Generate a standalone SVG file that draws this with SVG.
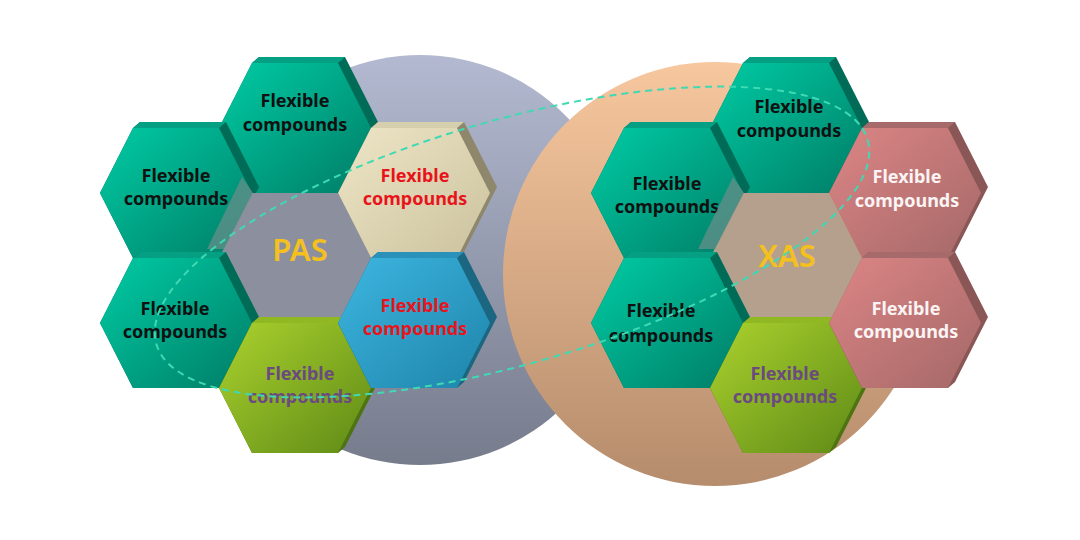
<svg xmlns="http://www.w3.org/2000/svg" xmlns:xlink="http://www.w3.org/1999/xlink" width="1080" height="540" viewBox="0 0 1080 540">
<style>
  .lbl{font-family:"Noto Sans","Liberation Sans",Arial,sans-serif;font-weight:700;font-size:18px;text-anchor:middle}
  .big{font-family:"Noto Sans","Liberation Sans",Arial,sans-serif;font-weight:600;font-size:31px;text-anchor:middle;fill:#f4c020}
  .dark{fill:#111111}
  .red{fill:#e8141c}
  .purple{fill:#6b4a80}
  .white{fill:#fbf4f4}
  .teal .side{fill:#006c57} .teal .topface{fill:#05a083} .teal .face{fill:url(#gTeal)}
  .beige .side{fill:#8e876c} .beige .topface{fill:#d6cfae} .beige .face{fill:url(#gBeige)}
  .blue .side{fill:#1b6680} .blue .topface{fill:#2a92ba} .blue .face{fill:url(#gBlue)}
  .lime .side{fill:#4e7412} .lime .topface{fill:#8fb822} .lime .face{fill:url(#gLime)}
  .pink .side{fill:#8a5656} .pink .topface{fill:#a66a6a} .pink .face{fill:url(#gPink)}
  .band{fill:#5f8f88;opacity:0.8}
</style>
<defs>
  <linearGradient id="gTeal" x1="0" y1="0" x2="1" y2="1"><stop offset="0" stop-color="#00cca4"/><stop offset="1" stop-color="#007d67"/></linearGradient>
  <linearGradient id="gBeige" x1="0" y1="0" x2="1" y2="1"><stop offset="0" stop-color="#ede6c6"/><stop offset="1" stop-color="#cbc19e"/></linearGradient>
  <linearGradient id="gBlue" x1="0" y1="0" x2="1" y2="1"><stop offset="0" stop-color="#3db6e0"/><stop offset="1" stop-color="#1e84aa"/></linearGradient>
  <linearGradient id="gLime" x1="0" y1="0" x2="1" y2="1"><stop offset="0" stop-color="#abd22e"/><stop offset="1" stop-color="#5e8a16"/></linearGradient>
  <linearGradient id="gPink" x1="0" y1="0" x2="1" y2="1"><stop offset="0" stop-color="#dd8585"/><stop offset="1" stop-color="#a46868"/></linearGradient>
  <linearGradient id="gGray" x1="0" y1="0" x2="0" y2="1"><stop offset="0" stop-color="#b3b9d0"/><stop offset="1" stop-color="#767c8c"/></linearGradient>
  <linearGradient id="gOrange" x1="0" y1="0" x2="0" y2="1"><stop offset="0" stop-color="#f7c79e"/><stop offset="1" stop-color="#b58c6c"/></linearGradient>
  <polygon id="hull" points="-43,65 -76,0 -43,-65 -36,-71 50,-71 83,-6 50,59 43,65"/>
  <polygon id="topf" points="-43,-65 43,-65 50,-71 -36,-71"/>
  <polygon id="front" points="-76,0 -43,-65 43,-65 76,0 43,65 -43,65"/>
  <polygon id="bandp" points="66,-16 77,0 48,56 31,56"/>
</defs>
<rect width="1080" height="540" fill="#ffffff"/>
<g id="circles">
  <circle id="circle-pas" cx="420" cy="260" r="205" fill="url(#gGray)"/>
  <circle id="circle-xas" cx="715" cy="274" r="212" fill="url(#gOrange)"/>
</g>

<!-- Left cluster -->
<g id="pas-top" class="teal" transform="translate(295,128)">
  <use xlink:href="#hull" class="side"/><use xlink:href="#topf" class="topface"/><use xlink:href="#front" class="face"/>
</g>
<g id="pas-top-label"><text class="lbl dark" x="295" y="107">Flexible</text><text class="lbl dark" x="295" y="131">compounds</text></g>
<g id="pas-lefttop" class="teal" transform="translate(176,193)">
  <use xlink:href="#hull" class="side"/><use xlink:href="#topf" class="topface"/><use xlink:href="#front" class="face"/>
  <text class="lbl dark" x="0" y="-11">Flexible</text><text class="lbl dark" x="0" y="12">compounds</text>
</g>
<g id="pas-righttop" class="beige" transform="translate(414,193)">
  <use xlink:href="#hull" class="side"/><use xlink:href="#topf" class="topface"/><use xlink:href="#front" class="face"/>
  <text class="lbl red" x="1" y="-11">Flexible</text><text class="lbl red" x="1" y="12">compounds</text>
</g>
<g id="pas-center" transform="translate(295,258)">
  <use xlink:href="#front" fill="#8c909e"/>
  <text class="big" x="5" y="3">PAS</text>
</g>
<use xlink:href="#bandp" class="band" transform="translate(176,193)"/>
<g id="pas-leftbottom" class="teal" transform="translate(176,323)">
  <use xlink:href="#hull" class="side"/><use xlink:href="#topf" class="topface"/><use xlink:href="#front" class="face"/>
  <text class="lbl dark" x="-1" y="-8">Flexible</text><text class="lbl dark" x="-1" y="15">compounds</text>
</g>
<g id="pas-bottom" class="lime" transform="translate(295,388)">
  <use xlink:href="#hull" class="side"/><use xlink:href="#topf" class="topface"/><use xlink:href="#front" class="face"/>
  <text class="lbl purple" x="5" y="-8">Flexible</text><text class="lbl purple" x="5" y="15">compounds</text>
</g>
<g id="pas-rightbottom" class="blue" transform="translate(414,323)">
  <use xlink:href="#hull" class="side"/><use xlink:href="#topf" class="topface"/><use xlink:href="#front" class="face"/>
  <text class="lbl red" x="1" y="-11">Flexible</text><text class="lbl red" x="1" y="12">compounds</text>
</g>

<!-- Right cluster -->
<g id="xas-top" class="teal" transform="translate(786,128)">
  <use xlink:href="#hull" class="side"/><use xlink:href="#topf" class="topface"/><use xlink:href="#front" class="face"/>
</g>
<g id="xas-top-label"><text class="lbl dark" x="789" y="113">Flexible</text><text class="lbl dark" x="789" y="137">compounds</text></g>
<g id="xas-lefttop" class="teal" transform="translate(667,193)">
  <use xlink:href="#hull" class="side"/><use xlink:href="#topf" class="topface"/><use xlink:href="#front" class="face"/>
  <text class="lbl dark" x="0" y="-3">Flexible</text><text class="lbl dark" x="0" y="20">compounds</text>
</g>
<g id="xas-righttop" class="pink" transform="translate(905,193)">
  <use xlink:href="#hull" class="side"/><use xlink:href="#topf" class="topface"/><use xlink:href="#front" class="face"/>
  <text class="lbl white" x="2" y="-10">Flexible</text><text class="lbl white" x="2" y="14">compounds</text>
</g>
<g id="xas-center" transform="translate(786,258)">
  <use xlink:href="#front" fill="#b4a08c"/>
  <text class="big" x="1" y="9">XAS</text>
</g>
<use xlink:href="#bandp" class="band" transform="translate(667,193)"/>
<g id="xas-leftbottom" class="teal" transform="translate(667,323)">
  <use xlink:href="#hull" class="side"/><use xlink:href="#topf" class="topface"/><use xlink:href="#front" class="face"/>
  <text class="lbl dark" x="-6" y="-6">Flexible</text><text class="lbl dark" x="-6" y="19">compounds</text>
</g>
<g id="xas-bottom" class="lime" transform="translate(786,388)">
  <use xlink:href="#hull" class="side"/><use xlink:href="#topf" class="topface"/><use xlink:href="#front" class="face"/>
  <text class="lbl purple" x="-1" y="-8">Flexible</text><text class="lbl purple" x="-1" y="15">compounds</text>
</g>
<g id="xas-rightbottom" class="pink" transform="translate(905,323)">
  <use xlink:href="#hull" class="side"/><use xlink:href="#topf" class="topface"/><use xlink:href="#front" class="face"/>
  <text class="lbl white" x="1" y="-8">Flexible</text><text class="lbl white" x="1" y="15">compounds</text>
</g>

<g id="connectors">
  <ellipse cx="512" cy="242" rx="370" ry="122" transform="rotate(-16 512 242)" fill="none" stroke="#3fd9b4" stroke-width="2" stroke-dasharray="7 5"/>
</g>
</svg>
